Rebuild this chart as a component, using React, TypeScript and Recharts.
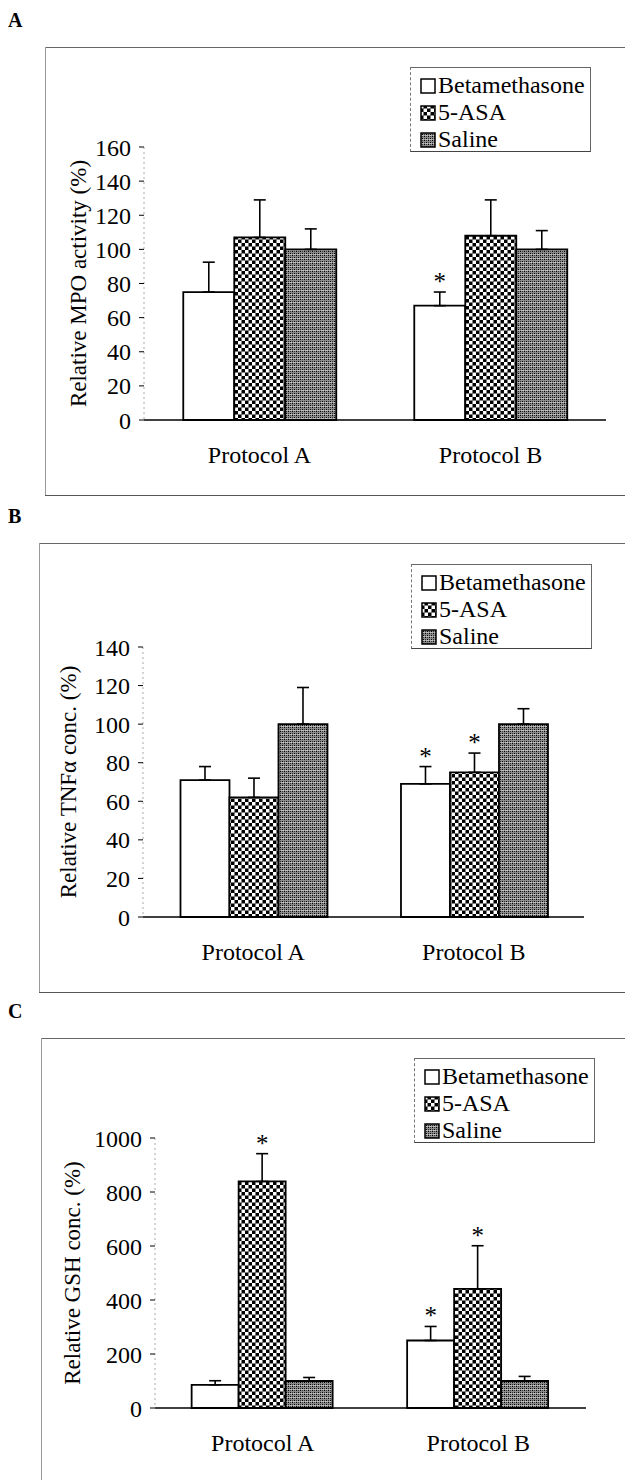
import React from 'react';
import { BarChart, Bar, XAxis, YAxis, ErrorBar, LabelList, Label } from 'recharts';

// categories / series
const categories = ['Protocol A', 'Protocol B'];
const seriesNames = ['Betamethasone', '5-ASA', 'Saline'];

// panel A - MPO activity
const mpoBeta = [75, 67];
const mpoBetaErr = [17.5, 8];
const mpoAsa = [107, 108];
const mpoAsaErr = [22, 21];
const mpoSaline = [100, 100];
const mpoSalineErr = [12, 11];
const mpoSig = [[false, true], [false, false], [false, false]];
const mpoTicks = [0, 20, 40, 60, 80, 100, 120, 140, 160];

// panel B - TNFa
const tnfBeta = [71, 69];
const tnfBetaErr = [7, 9];
const tnfAsa = [62, 75];
const tnfAsaErr = [10, 10];
const tnfSaline = [100, 100];
const tnfSalineErr = [19, 8];
const tnfSig = [[false, true], [false, true], [false, false]];
const tnfTicks = [0, 20, 40, 60, 80, 100, 120, 140];

// panel C - GSH
const gshBeta = [86, 250];
const gshBetaErr = [15, 52];
const gshAsa = [839, 441];
const gshAsaErr = [103, 160];
const gshSaline = [100, 100];
const gshSalineErr = [13, 17];
const gshSig = [[false, true], [true, true], [false, false]];
const gshTicks = [0, 200, 400, 600, 800, 1000];

const FONT = '"Liberation Serif", "Times New Roman", serif';
const fills = ['#ffffff', 'url(#checker)', 'url(#stipple)'];
const keys = ['beta', 'asa', 'saline'];

function buildRows(vals: number[][], errs: number[][], sig: boolean[][]) {
  return categories.map((name, i) => {
    const row: any = { name };
    keys.forEach((k, s) => {
      row[k] = vals[s][i];
      row[k + 'Err'] = [0, errs[s][i]];
      row[k + 'Sig'] = sig[s][i] ? '*' : '';
    });
    return row;
  });
}

// asterisk sits just above the error bar cap
const starContent = (rows: any[], key: string) => (props: any) => {
  const { x, y, width, height, value, index } = props;
  if (!value || index == null) return null;
  const v = rows[index][key];
  const e = rows[index][key + 'Err'][1];
  const errTop = y - (e * height) / v;
  return (
    <text x={x + width / 2} y={errTop - 2} textAnchor="middle" fontSize={25} fontFamily={FONT} fill="#000">
      *
    </text>
  );
};

const LegendBox = ({ left, top }: { left: number; top: number }) => (
  <div
    style={{
      position: 'absolute',
      left,
      top,
      width: 181,
      height: 85,
      borderTop: '1px solid #666',
      borderRight: '1px solid #666',
      borderBottom: '1px solid #444',
      borderLeft: '1px dashed #777',
      background: '#fff',
      fontFamily: FONT,
      fontSize: 24,
      lineHeight: '27px',
      paddingTop: 4,
      boxSizing: 'border-box',
    }}
  >
    {seriesNames.map((n, i) => (
      <div key={n} style={{ display: 'flex', alignItems: 'center', height: 27, paddingLeft: 9 }}>
        <svg width={16} height={16} style={{ marginRight: 2 }}>
          <rect x={1} y={1} width={14} height={14} fill={fills[i]} stroke="#000" strokeWidth={1.5} />
        </svg>
        <span>{n}</span>
      </div>
    ))}
  </div>
);

interface PanelProps {
  letter: string;
  top: number;
  frameLeft: number;
  frameHeight: number;
  bottomLine: boolean;
  axisX: number;
  plotTop: number;
  plotBottom: number;
  right: number;
  labelX: number;
  yLabel: string;
  ticks: number[];
  rows: any[];
  legendLeft: number;
  legendTop: number;
}

function Panel(p: PanelProps) {
  const height = p.frameHeight;
  const mTop = p.plotTop - p.top;
  const mBottom = height - (p.plotBottom - p.top) - 40;
  return (
    <div style={{ position: 'absolute', left: 0, top: p.top, width: 625, height }}>
      <div
        style={{
          position: 'absolute',
          left: 8,
          top: -38,
          fontFamily: FONT,
          fontWeight: 'bold',
          fontSize: 20,
        }}
      >
        {p.letter}
      </div>
      <div style={{ position: 'absolute', left: p.frameLeft, top: 0, width: 625 - p.frameLeft, height: 0, borderTop: '1px solid #666' }} />
      <div style={{ position: 'absolute', left: p.frameLeft, top: 0, width: 0, height, borderLeft: '1px solid #999' }} />
      {p.bottomLine && (
        <div style={{ position: 'absolute', left: p.frameLeft, top: height, width: 625 - p.frameLeft, height: 0, borderTop: '1px solid #555' }} />
      )}
      <div style={{ position: 'absolute', left: 0, top: 0 }}>
        <BarChart
          width={625}
          height={height}
          data={p.rows}
          margin={{ top: mTop, right: 625 - p.right, bottom: mBottom, left: 0 }}
          barCategoryGap="17%"
          barGap={0}
        >
          <XAxis
            dataKey="name"
            axisLine={{ stroke: '#000', strokeWidth: 1.5 }}
            tickLine={false}
            tickSize={0}
            tickMargin={26}
            height={40}
            tick={{ fontSize: 24, fill: '#000', fontFamily: FONT }}
          />
          <YAxis
            width={p.axisX}
            domain={[0, p.ticks[p.ticks.length - 1]]}
            ticks={p.ticks}
            interval={0}
            axisLine={{ stroke: '#aaa', strokeDasharray: '2 3' }}
            tickLine={{ stroke: '#000' }}
            tickSize={5}
            tickMargin={8}
            tick={{ fontSize: 24, fill: '#000', fontFamily: FONT }}
          >
            <Label
              value={p.yLabel}
              angle={-90}
              position="insideLeft"
              offset={p.labelX}
              style={{ textAnchor: 'middle', fontSize: 23, fill: '#000', fontFamily: FONT }}
            />
          </YAxis>
          {keys.map((k, s) => (
            <Bar
              key={k}
              dataKey={k}
              name={seriesNames[s]}
              fill={fills[s]}
              stroke="#000"
              strokeWidth={1.8}
              isAnimationActive={false}
            >
              <ErrorBar dataKey={k + 'Err'} width={6} stroke="#000" strokeWidth={1.6} direction="y" />
              <LabelList dataKey={k + 'Sig'} content={starContent(p.rows, k)} />
            </Bar>
          ))}
        </BarChart>
      </div>
      <LegendBox left={p.legendLeft} top={p.legendTop - p.top} />
    </div>
  );
}

export default function App() {
  const mpoRows = buildRows([mpoBeta, mpoAsa, mpoSaline], [mpoBetaErr, mpoAsaErr, mpoSalineErr], mpoSig);
  const tnfRows = buildRows([tnfBeta, tnfAsa, tnfSaline], [tnfBetaErr, tnfAsaErr, tnfSalineErr], tnfSig);
  const gshRows = buildRows([gshBeta, gshAsa, gshSaline], [gshBetaErr, gshAsaErr, gshSalineErr], gshSig);
  return (
    <div style={{ position: 'absolute', left: 0, top: 0, width: 625, height: 1480, background: '#fff', fontFamily: FONT, overflow: 'hidden' }}>
      <svg width={0} height={0} style={{ position: 'absolute' }}>
        <defs>
          <pattern id="checker" width={7} height={7} patternUnits="userSpaceOnUse">
            <rect width={7} height={7} fill="#000" />
            <rect x={0} y={0} width={3.5} height={3.5} fill="#fff" />
            <rect x={3.5} y={3.5} width={3.5} height={3.5} fill="#fff" />
          </pattern>
          <pattern id="stipple" width={4} height={4} patternUnits="userSpaceOnUse">
            <rect width={4} height={4} fill="#8c8c8c" />
            <rect x={0} y={0} width={1} height={1} fill="#000" />
            <rect x={2} y={2} width={1} height={1} fill="#000" />
            <rect x={2} y={0} width={1} height={1} fill="#333" />
            <rect x={0} y={2} width={1} height={1} fill="#333" />
            <rect x={1} y={3} width={3} height={1} fill="#bdbdbd" />
          </pattern>
        </defs>
      </svg>
      <Panel
        letter="A"
        top={47}
        frameLeft={45}
        frameHeight={448}
        bottomLine
        axisX={144}
        plotTop={147}
        plotBottom={420}
        right={606}
        labelX={78}
        yLabel="Relative MPO activity (%)"
        ticks={mpoTicks}
        rows={mpoRows}
        legendLeft={410}
        legendTop={67}
      />
      <Panel
        letter="B"
        top={543}
        frameLeft={39}
        frameHeight={449}
        bottomLine
        axisX={143}
        plotTop={647}
        plotBottom={917}
        right={584}
        labelX={68}
        yLabel="Relative TNFα conc. (%)"
        ticks={tnfTicks}
        rows={tnfRows}
        legendLeft={411}
        legendTop={564}
      />
      <Panel
        letter="C"
        top={1038}
        frameLeft={41}
        frameHeight={442}
        bottomLine={false}
        axisX={155}
        plotTop={1138}
        plotBottom={1408}
        right={586}
        labelX={72}
        yLabel="Relative GSH conc. (%)"
        ticks={gshTicks}
        rows={gshRows}
        legendLeft={414}
        legendTop={1058}
      />
    </div>
  );
}
